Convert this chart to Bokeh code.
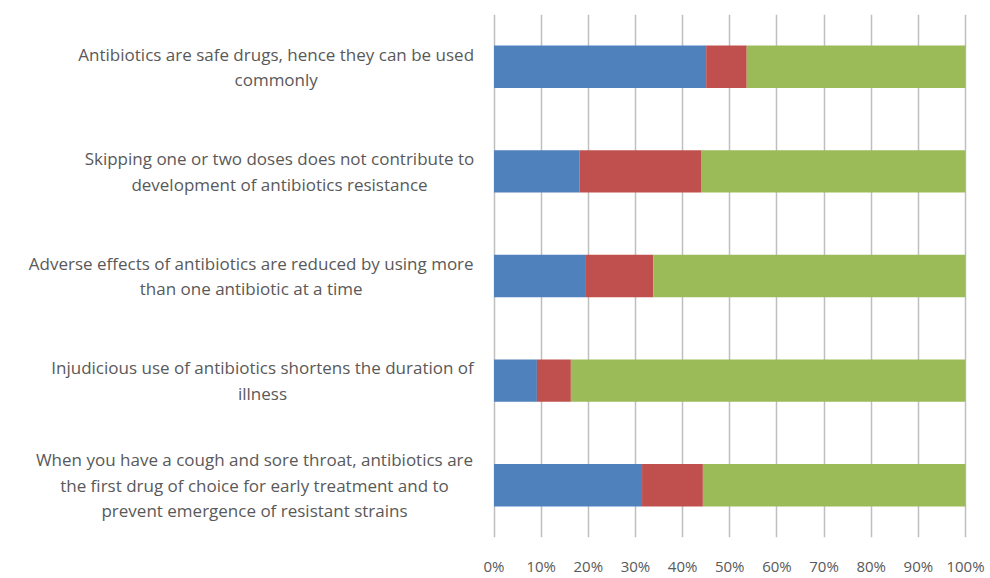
from bokeh.plotting import figure
from bokeh.models import ColumnDataSource, FactorRange, Range1d, FixedTicker
from bokeh.core.properties import value
from bokeh.embed import file_html
from bokeh.resources import INLINE

# Survey statements (top to bottom) and response shares in percent
statements = [
    "Antibiotics are safe drugs, hence they can be used commonly",
    "Skipping one or two doses does not contribute to development of antibiotics resistance",
    "Adverse effects of antibiotics are reduced by using more than one antibiotic at a time",
    "Injudicious use of antibiotics shortens the duration of illness",
    "When you have a cough and sore throat, antibiotics are the first drug of choice for early treatment and to prevent emergence of resistant strains",
]
statement_lines = [
    ["Antibiotics are safe drugs, hence they can be used", "commonly"],
    ["Skipping one or two doses does not contribute to", "development of antibiotics resistance"],
    ["Adverse effects of antibiotics are reduced by using more", "than one antibiotic at a time"],
    ["Injudicious use of antibiotics shortens the duration of", "illness"],
    ["When you have a cough and sore throat, antibiotics are",
     "the first drug of choice for early treatment and to",
     "prevent emergence of resistant strains"],
]
agree = [45.0, 18.1, 19.5, 9.1, 31.4]
not_sure = [8.6, 25.8, 14.3, 7.2, 12.9]
disagree = [46.4, 56.1, 66.2, 83.7, 55.7]
tick_values = [0, 10, 20, 30, 40, 50, 60, 70, 80, 90, 100]
tick_labels = ["0%", "10%", "20%", "30%", "40%", "50%", "60%", "70%", "80%", "90%", "100%"]

# horizontal centre of each wrapped label block, in axis units
label_centres = [-46.2, -45.5, -51.5, -49.1, -50.8]

FONT = "Open Sans"
TEXT_COLOR = "#595959"
colors = ["#4F81BD", "#C0504D", "#9BBB59"]

factors = list(reversed(statements))

p = figure(
    width=990, height=578,
    y_range=FactorRange(factors=factors, range_padding=0),
    x_range=Range1d(-104.67, 102.12),
    output_backend="svg", toolbar_location=None,
    min_border_left=0, min_border_right=15,
    min_border_top=14, min_border_bottom=34,
)
p.outline_line_color = None
p.background_fill_color = "white"
p.border_fill_color = "white"

src = ColumnDataSource(dict(statement=statements, agree=agree,
                            not_sure=not_sure, disagree=disagree))
p.hbar_stack(["agree", "not_sure", "disagree"], y="statement", height=0.405,
             color=colors, line_color=None, source=src)

# wrapped category labels, one text row per line
xs, ys, texts, offs = [], [], [], []
line_gap = 25.5
for stmt, lines, cx in zip(statements, statement_lines, label_centres):
    n = len(lines)
    for i, ln in enumerate(lines):
        xs.append(cx)
        ys.append(stmt)
        texts.append(ln)
        offs.append((i - (n - 1) / 2) * line_gap)
lab_src = ColumnDataSource(dict(x=xs, y=ys, text=texts, off=offs))
p.text(x="x", y="y", text="text", y_offset="off", source=lab_src,
       text_align="center", text_baseline="middle",
       text_font=value(FONT), text_font_size="17px", text_color=TEXT_COLOR)

# axes
p.yaxis.visible = False
p.ygrid.grid_line_color = None
p.xaxis.ticker = FixedTicker(ticks=tick_values)
p.xaxis.major_label_overrides = {v: l for v, l in zip(tick_values, tick_labels)}
p.xaxis.axis_line_color = None
p.xaxis.major_tick_line_color = None
p.xaxis.minor_tick_line_color = None
p.xaxis.major_label_standoff = 12
p.xaxis.major_label_text_font = FONT
p.xaxis.major_label_text_font_size = "15px"
p.xaxis.major_label_text_color = TEXT_COLOR
p.xgrid.ticker = FixedTicker(ticks=tick_values)
p.xgrid.grid_line_color = "#BFBFBF"
p.xgrid.grid_line_width = 1.5
p.xgrid.level = "underlay"

open("out.html", "w").write(file_html(p, INLINE))
